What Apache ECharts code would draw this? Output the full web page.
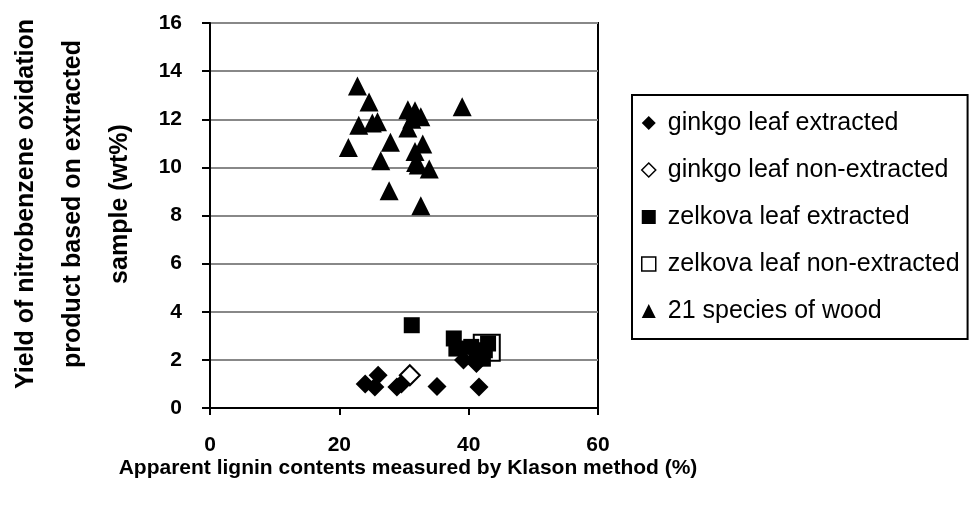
<!DOCTYPE html>
<html><head><meta charset="utf-8">
<script src="https://cdn.jsdelivr.net/npm/echarts@6/dist/echarts.min.js"></script>
<style>html,body{margin:0;padding:0;background:#fff}#c{width:974px;height:506px}</style>
</head><body><div id="c"></div>
<script>
const xTicks = [0, 20, 40, 60];
const yTicks = [0, 2, 4, 6, 8, 10, 12, 14, 16];
const seriesNames = ['ginkgo leaf extracted','ginkgo leaf non-extracted','zelkova leaf extracted','zelkova leaf non-extracted','21 species of wood'];
const ginkgoExtracted = [[24.0,1.0],[26.0,1.36],[25.5,0.87],[28.9,0.87],[29.6,1.0],[35.1,0.89],[41.6,0.87],[39.2,1.99],[41.2,1.85]];
const ginkgoNonExtracted = [[30.9,1.36]];
const zelkovaExtracted = [[31.2,3.44],[37.7,2.89],[38.1,2.47],[40.4,2.54],[41.2,2.33],[42.5,2.4],[43.0,2.68],[42.2,2.05]];
const zelkovaNonExtracted = [[42.8,2.5]];
const wood = [[22.8,13.38],[24.6,12.72],[23.0,11.75],[25.1,11.84],[25.9,11.9],[21.4,10.83],[27.9,11.04],[26.4,10.28],[27.7,9.03],
  [30.6,12.39],[31.7,12.35],[32.6,12.1],[30.6,11.64],[31.7,10.66],[32.9,10.97],[31.8,10.2],[32.2,10.1],[33.9,9.93],[32.6,8.41],[39.0,12.52],[31.2,12.0]];
const xTitle = 'Apparent lignin contents measured by Klason method (%)';
const yTitle = 'Yield of nitrobenzene oxidation\nproduct based on extracted\nsample (wt%)';

const chart = echarts.init(document.getElementById('c'));
const FF = '"Liberation Sans", Arial, sans-serif';
chart.setOption({
  animation: false,
  grid: {left: 210, right: 376, top: 23, bottom: 98, show: true, borderColor: '#000', borderWidth: 2, containLabel: false},
  xAxis: {type: 'value', min: xTicks[0], max: xTicks[xTicks.length-1], interval: 20,
    axisLine: {show: true, lineStyle: {color: '#000', width: 2}},
    axisTick: {show: true, inside: false, length: 7, lineStyle: {color: '#000', width: 2}},
    axisLabel: {margin: 27, color: '#000', fontSize: 21, fontWeight: 'bold', fontFamily: FF},
    splitLine: {show: false}},
  yAxis: {type: 'value', min: yTicks[0], max: yTicks[yTicks.length-1], interval: 2,
    axisLine: {show: true, lineStyle: {color: '#000', width: 2}},
    axisTick: {show: true, inside: false, length: 8, lineStyle: {color: '#000', width: 2}},
    axisLabel: {margin: 28, color: '#000', fontSize: 21, fontWeight: 'bold', fontFamily: FF},
    splitLine: {show: true, lineStyle: {color: '#888', width: 2}}},
  legend: {orient: 'vertical', left: 632, top: 95, itemWidth: 14, itemHeight: 14, itemGap: 19,
    padding: [14, 8, 14, 9], borderColor: '#000', borderWidth: 2,
    textStyle: {fontSize: 25, color: '#000', fontFamily: FF, lineHeight: 28, padding: [0, 0, 0, 7]},
    data: [
      {name: seriesNames[0], icon: 'diamond', itemStyle: {color: '#000', borderWidth: 0}},
      {name: seriesNames[1], icon: 'diamond', itemStyle: {color: '#fff', borderColor: '#000', borderWidth: 1.5}},
      {name: seriesNames[2], icon: 'rect', itemStyle: {color: '#000', borderWidth: 0}},
      {name: seriesNames[3], icon: 'rect', itemStyle: {color: '#fff', borderColor: '#000', borderWidth: 1.5}},
      {name: seriesNames[4], icon: 'triangle', itemStyle: {color: '#000', borderWidth: 0}}
    ]},
  graphic: [
    {type: 'text', x: 408, y: 468, style: {text: xTitle, font: 'bold 21px ' + FF, fill: '#000', textAlign: 'center', textVerticalAlign: 'middle'}},
    {type: 'text', x: 73, y: 204, rotation: Math.PI/2, style: {text: yTitle, font: 'bold 25px ' + FF, fill: '#000', textAlign: 'center', textVerticalAlign: 'middle', lineHeight: 47}}
  ],
  series: [
    {name: seriesNames[1], type: 'scatter', symbol: 'diamond', symbolSize: 20, z: 2, data: ginkgoNonExtracted,
      itemStyle: {color: '#fff', borderColor: '#000', borderWidth: 2, opacity: 1}},
    {name: seriesNames[3], type: 'scatter', symbol: 'rect', symbolSize: 26, z: 2, data: zelkovaNonExtracted,
      itemStyle: {color: '#fff', borderColor: '#000', borderWidth: 2, opacity: 1}},
    {name: seriesNames[0], type: 'scatter', symbol: 'diamond', symbolSize: 19, z: 3, data: ginkgoExtracted,
      itemStyle: {color: '#000', opacity: 1}},
    {name: seriesNames[2], type: 'scatter', symbol: 'rect', symbolSize: 16, z: 3, data: zelkovaExtracted,
      itemStyle: {color: '#000', opacity: 1}},
    {name: seriesNames[4], type: 'scatter', symbol: 'triangle', symbolSize: [19, 19], z: 3, data: wood,
      itemStyle: {color: '#000', opacity: 1}}
  ]
});
</script></body></html>
